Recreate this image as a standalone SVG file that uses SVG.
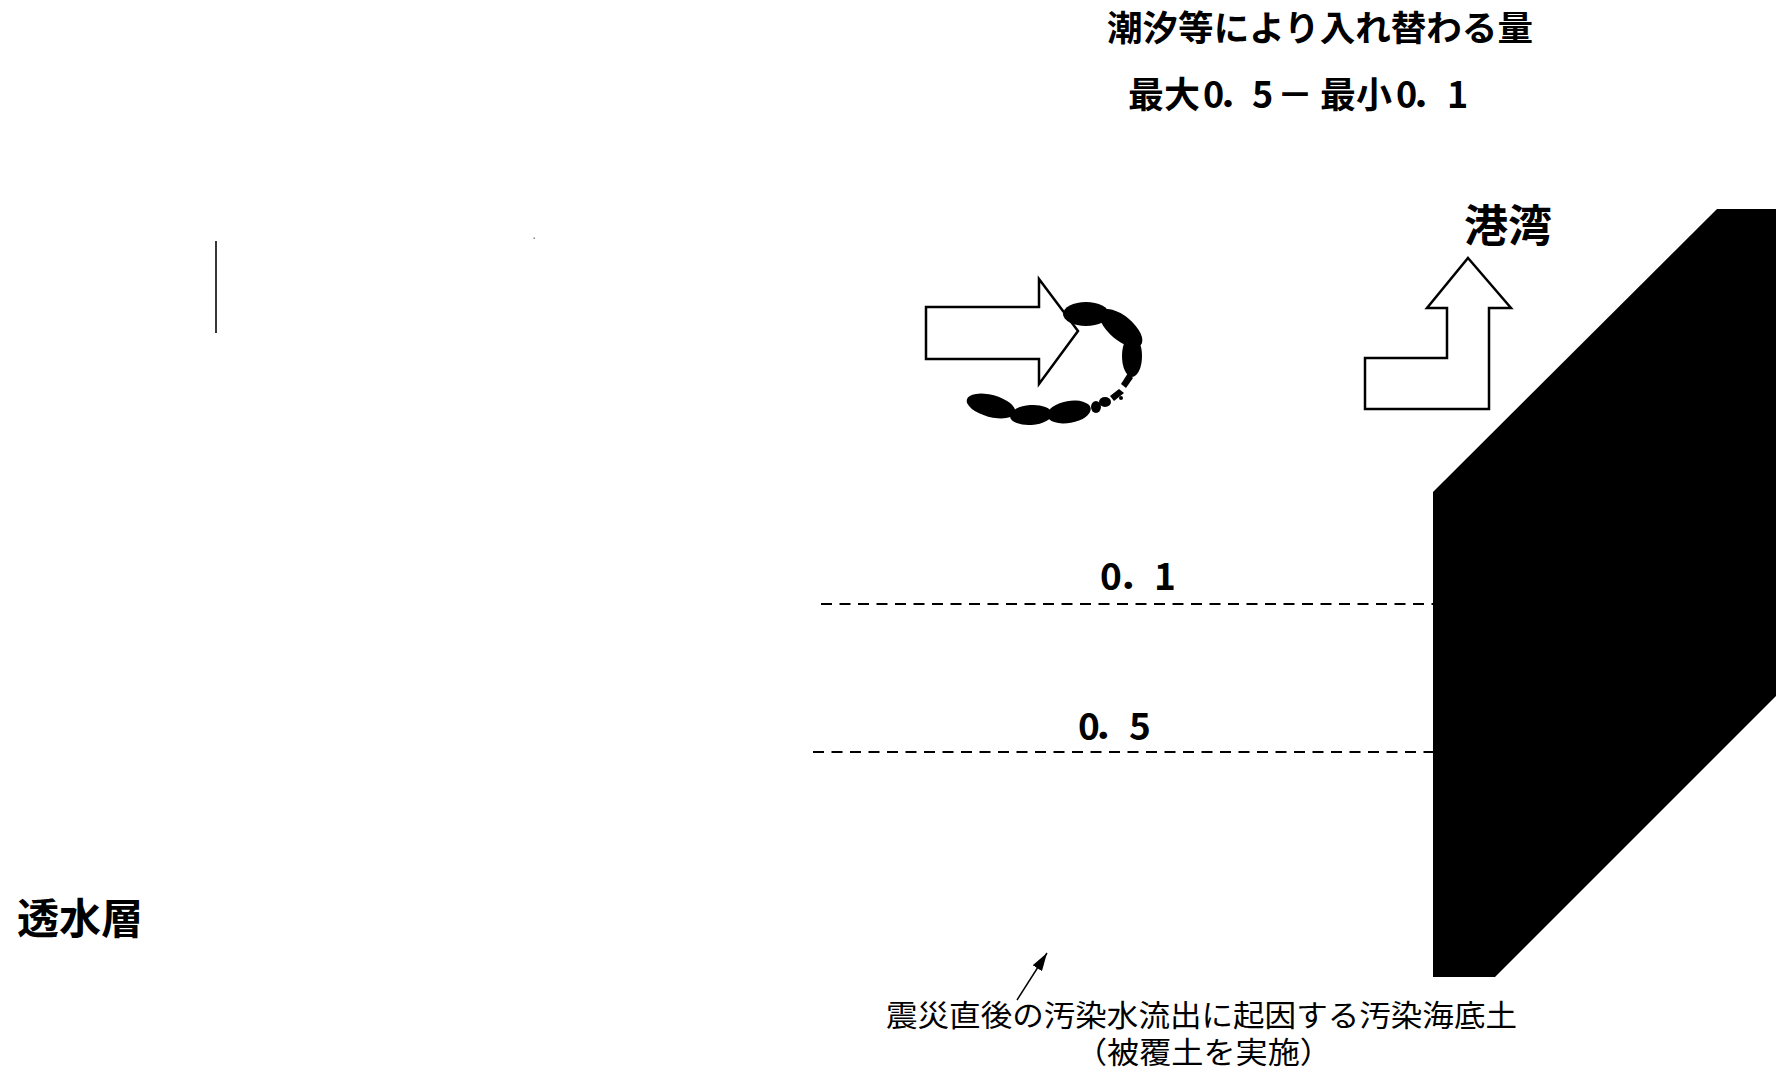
<svg xmlns="http://www.w3.org/2000/svg" width="1776" height="1073" viewBox="0 0 1776 1073">
  <defs>
    <style>
      .jp { font-family: "Noto Sans CJK JP", "Noto Sans CJK SC", sans-serif; fill: #000; }
      .b { font-weight: 700; }
      .outline { fill: #fff; stroke: #000; stroke-width: 2.5; stroke-linejoin: miter; }
      .dash { fill: none; stroke: #000; stroke-width: 2; stroke-dasharray: 11 7.5; }
      .ink { fill: #000; }
    </style>
    <marker id="tip" viewBox="0 0 18 11" refX="18" refY="5.5" markerWidth="18" markerHeight="11" markerUnits="userSpaceOnUse" orient="auto">
      <path d="M0,0 L18,5.5 L0,11 Z" fill="#000"/>
    </marker>
  </defs>

  <rect width="1776" height="1073" fill="#fff"/>

  <!-- heading -->
  <g id="title">
    <text class="jp b" x="1107" y="41" font-size="35" textLength="426" lengthAdjust="spacingAndGlyphs">潮汐等により入れ替わる量</text>
    <text class="jp b" font-size="36" y="108" x="1128 1164 1203 1218 1252 1277 1320 1356 1396 1411 1447">最大0．5－最小0．1</text>
  </g>

  <!-- harbour label and quay wall -->
  <g id="harbour">
    <text class="jp b" x="1508" y="242" font-size="44" text-anchor="middle">港湾</text>
  </g>
  <g id="quay-wall">
    <polygon class="ink" points="1717,209 1776,209 1776,696 1495,977 1433,977 1433,492"/>
  </g>

  <!-- flow arrows -->
  <g id="inflow-arrow">
    <polygon class="outline" points="926,307 1039,307 1039,279 1078,331 1039,384 1039,359 926,359"/>
  </g>
  <g id="swirl">
    <ellipse class="ink" cx="1086" cy="314" rx="23" ry="12"/>
    <ellipse class="ink" cx="1121" cy="328" rx="26" ry="12" transform="rotate(40 1121 328)"/>
    <ellipse class="ink" cx="1132" cy="356" rx="10" ry="21"/>
    <path class="ink" d="M1128,373 L1133,378 L1126,388 L1121,384 Z"/>
    <path class="ink" d="M1119,389 L1124,393 L1114,401 L1110,396 Z"/>
    <ellipse class="ink" cx="1105" cy="402" rx="6" ry="5"/>
    <ellipse class="ink" cx="1096" cy="407" rx="5" ry="6"/>
    <ellipse class="ink" cx="1121" cy="398" rx="2" ry="2"/>
    <ellipse class="ink" cx="991" cy="406" rx="25" ry="11" transform="rotate(15 991 406)"/>
    <ellipse class="ink" cx="1031" cy="415" rx="21" ry="10" transform="rotate(-4 1031 415)"/>
    <ellipse class="ink" cx="1069" cy="412" rx="22" ry="11" transform="rotate(-10 1069 412)"/>
  </g>
  <g id="outflow-arrow">
    <polygon class="outline" points="1468,258 1511,308 1489,308 1489,409 1365,409 1365,358 1447,358 1447,308 1427,308"/>
  </g>

  <!-- water levels -->
  <g id="level-0-1">
    <line class="dash" x1="821" y1="604" x2="1433" y2="604"/>
    <text class="jp b" font-size="37" y="590" x="1100 1118 1154">0．1</text>
  </g>
  <g id="level-0-5">
    <line class="dash" x1="813" y1="752" x2="1433" y2="752"/>
    <text class="jp b" font-size="37" y="740" x="1078 1093 1129">0．5</text>
  </g>

  <!-- permeable layer -->
  <g id="permeable-layer">
    <text class="jp b" x="80" y="934" font-size="42" text-anchor="middle">透水層</text>
  </g>

  <!-- small marks -->
  <g id="marks">
    <line x1="216" y1="241" x2="216" y2="333" stroke="#222" stroke-width="1.8"/>
    <rect x="533.5" y="237.5" width="1.5" height="1.5" fill="#888"/>
  </g>

  <!-- seabed caption -->
  <g id="seabed-caption">
    <text class="jp" x="886" y="1026" font-size="30" textLength="631" lengthAdjust="spacingAndGlyphs">震災直後の汚染水流出に起因する汚染海底土</text>
    <text class="jp" x="1075" y="1063" font-size="30" textLength="257" lengthAdjust="spacingAndGlyphs">（被覆土を実施）</text>
  </g>

  <g id="connectors">
    <line x1="1017" y1="1000" x2="1047" y2="953" stroke="#000" stroke-width="1.4" marker-end="url(#tip)"/>
  </g>
</svg>
